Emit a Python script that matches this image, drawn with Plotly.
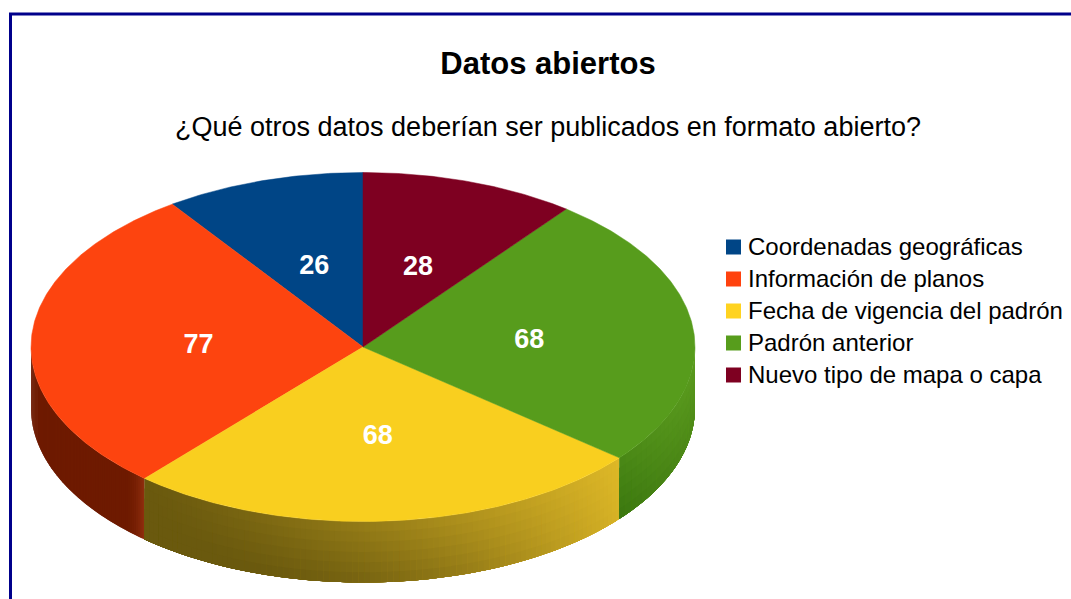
import math
import plotly.graph_objects as go

# ---- data ----
categories = ["Coordenadas geográficas", "Información de planos", "Fecha de vigencia del padrón",
              "Padrón anterior", "Nuevo tipo de mapa o capa"]
values = [26, 77, 68, 68, 28]
colors = ["#004586", "#ff420e", "#ffd320", "#579d1c", "#7e0021"]
face_colors = ["#004586", "#fd440f", "#f9cf1f", "#579c1c", "#7e0021"]

W, H = 1071, 599
CX, CY, RX, RY, DEPTH = 363.0, 347.0, 332.0, 174.5, 61.0
FONT = "Liberation Sans"


def hex2rgb(h):
    return tuple(int(h[i:i + 2], 16) for i in (1, 3, 5))


def mix(a, b, t):
    t = max(0.0, min(1.0, t))
    return tuple(a[i] + (b[i] - a[i]) * t for i in range(3))


def css(c):
    return "rgb(%d,%d,%d)" % tuple(round(v) for v in c)


def pt(theta, drop=0.0):
    """theta: clockwise from 12 o'clock, radians."""
    return CX + RX * math.sin(theta), CY - RY * math.cos(theta) + drop


# slice angles: counter-clockwise from the top in data order
total = sum(values)
spans = []
end = 2 * math.pi
for v in values:
    start = end - v / total * 2 * math.pi
    spans.append((start, end))
    end = start


def wall_colour(name, x, v):
    """v 0 (top of wall) .. 1 (bottom)"""
    if name == 1:  # orange wall
        t = max(0.0, (x - 125) / 20)
        return mix(hex2rgb("#6e1a00"), hex2rgb("#93300f"), t * t)
    if name == 2:  # yellow wall
        t = (x - 145) / 475
        t2 = t ** 1.25 - 0.24 * v * math.sin(math.pi * t) - 0.06 * v * t
        return mix(hex2rgb("#6a590e"), hex2rgb("#deb827"), t2)
    # green wall
    t = (x - 620) / 75
    return mix(mix(hex2rgb("#4a8816"), hex2rgb("#3b770f"), v),
               mix(hex2rgb("#5a9b1e"), hex2rgb("#4f8a18"), v), t)


fig = go.Figure()

# side walls: the visible front half of every slice, painted so each step overlaps the next
WALL_STEPS = {1: (0.5, 1), 2: (1.0, 6), 3: (1.6, 6)}  # degrees per column, vertical bands
for idx, (a0, a1) in enumerate(spans):
    lo, hi = max(a0, math.pi / 2), min(a1, 3 * math.pi / 2)
    if hi <= lo:
        continue
    deg, bands = WALL_STEPS[idx]
    steps = max(2, int((hi - lo) / math.radians(deg)))
    dth = (hi - lo) / steps
    for s in range(steps):
        th0 = lo + dth * s
        th1 = min(hi, th0 + 2 * dth)
        xm = pt(th0 + dth / 2)[0]
        for b in range(bands):
            d0 = DEPTH * b / bands
            p = [pt(th0, d0), pt(th1, d0), pt(th1, DEPTH), pt(th0, DEPTH), pt(th0, d0)]
            col = css(wall_colour(idx, xm, (b + 0.5) / bands))
            fig.add_trace(go.Scatter(
                x=[q[0] for q in p], y=[q[1] for q in p], mode="lines", fill="toself",
                fillcolor=col, line=dict(width=0),
                showlegend=False, hoverinfo="skip"))

# top faces
for idx, (a0, a1) in enumerate(spans):
    n = max(8, int((a1 - a0) / math.radians(0.5)))
    th = [a0 + (a1 - a0) * i / n for i in range(n + 1)]
    xs = [CX] + [pt(t)[0] for t in th] + [CX]
    ys = [CY] + [pt(t)[1] for t in th] + [CY]
    fig.add_trace(go.Scatter(
        x=xs, y=ys, mode="lines", fill="toself", fillcolor=face_colors[idx],
        line=dict(color=face_colors[idx], width=0.5), name=categories[idx],
        showlegend=False,
        hovertemplate="%{fullData.name}: " + str(values[idx]) + "<extra></extra>"))

# value labels
lx, ly = [], []
for a0, a1 in spans:
    p = pt((a0 + a1) / 2)
    lx.append(CX + (p[0] - CX) * 0.5 + 1.2)
    ly.append(CY + (p[1] - CY) * 0.5 + 3.5)
fig.add_trace(go.Scatter(
    x=lx, y=ly, mode="text", text=[str(v) for v in values], textposition="middle center",
    textfont=dict(family=FONT, size=27, color="white", weight="bold"),
    showlegend=False, hoverinfo="skip"))

# legend: swatches and labels
LEG_TOP, LEG_STEP, SW_X, TXT_X = 247.0, 32.0, 733.5, 748.0
for i, (c, name) in enumerate(zip(colors, categories)):
    yy = LEG_TOP + i * LEG_STEP
    fig.add_trace(go.Scatter(
        x=[SW_X], y=[yy], mode="markers", name=name, showlegend=False, hoverinfo="skip",
        marker=dict(symbol="square", size=15, color=c, line=dict(width=0))))
    fig.add_trace(go.Scatter(
        x=[TXT_X], y=[yy + 2], mode="text", text=[name], textposition="middle right", name=name,
        showlegend=False, hoverinfo="skip", cliponaxis=False,
        textfont=dict(family=FONT, size=24, color="black")))

fig.update_layout(
    width=W, height=H,
    margin=dict(l=0, r=0, t=0, b=0),
    paper_bgcolor="white", plot_bgcolor="white",
    showlegend=False,
    xaxis=dict(range=[0, W], visible=False, fixedrange=True),
    yaxis=dict(range=[H, 0], visible=False, fixedrange=True),
    title=dict(text="<b>Datos abiertos</b>", x=548 / W, xanchor="center", xref="paper",
               y=1 - 63 / H, yanchor="middle", yref="container",
               font=dict(family=FONT, size=31, color="black")),
    annotations=[dict(text="¿Qué otros datos deberían ser publicados en formato abierto?",
                      x=548, y=127, xref="x", yref="y", showarrow=False,
                      xanchor="center", yanchor="middle",
                      font=dict(family=FONT, size=27, color="black"))],
    shapes=[dict(type="rect", x0=10.5, y0=14, x1=W + 40, y1=H + 40, xref="x", yref="y",
                 line=dict(color="#00008b", width=3), fillcolor="rgba(0,0,0,0)", layer="below")],
)

fig.write_html("out.html", post_script="document.body.style.margin='0';document.documentElement.style.overflow='hidden';",
               config=dict(displayModeBar=False))
